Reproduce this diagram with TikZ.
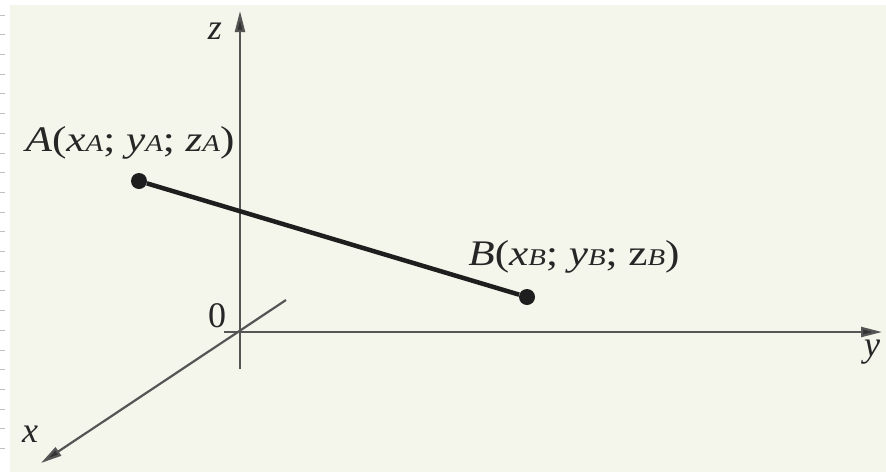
\documentclass[tikz,border=0pt]{standalone}
\usepackage{fontspec}
\setmainfont{Liberation Serif}
\usetikzlibrary{arrows.meta}

\definecolor{panelbg}{HTML}{F4F6EC}
\definecolor{axisgray}{HTML}{555555}
\definecolor{segdark}{HTML}{1E1E1E}
\newcommand{\sbs}[1]{{\fontsize{24}{24}\selectfont\itshape #1}}
\newcommand{\ptlabel}[3]{\scalebox{1.2}[1]{\textit{#1}(\textit{x}\sbs{#2}; \textit{y}\sbs{#2}; {#3z}\sbs{#2})}}

\begin{document}
\begin{tikzpicture}[x=1pt, y=-1pt]
    \tikzstyle{axis} = [draw=axisgray, line width=2.2pt, -{Triangle[length=21pt, width=10pt, fill=black!80]}]
    \tikzstyle{dot} = [circle, fill=segdark, inner sep=0pt, minimum size=16pt]
    \tikzstyle{lbl} = [inner sep=0pt, font=\fontsize{36}{36}\selectfont, text=black!85]
    \tikzstyle{axlbl} = [inner sep=0pt, font=\fontsize{36}{36}\selectfont\itshape, text=black!85]

    \useasboundingbox (0,0) rectangle (886,472);
    \fill[panelbg] (10,5) rectangle (886,472);
    % margin marks on the left
    \foreach \k in {0,...,22}
        \draw[gray!50, line width=0.8pt] (0,15+19.7*\k) -- (5,15+19.7*\k);

    \coordinate (O) at (240,332);
    \coordinate (zbot) at (240,369);
    \coordinate (ztop) at (240,11);
    \coordinate (ystart) at (224,332);
    \coordinate (yend) at (882,332);
    \coordinate (xstart) at (286,300);
    \coordinate (xend) at (41,463);

    \draw [axis] (zbot) -- (ztop);
    \draw [axis] (ystart) -- (yend);
    \draw [axis] (xstart) -- (xend);

    \node (zlab) [axlbl] at (215,31) {z};
    \node (ylab) [axlbl] at (872,352) {y};
    \node (xlab) [axlbl] at (30,434) {x};
    \node (olab) [lbl] at (217,316) {0};

    \node (A) [dot] at (139,181) {};
    \node (B) [dot] at (527,297) {};
    \draw [segdark, line width=4.5pt] (A) -- (B);

    \node (Alab) [lbl] at (130,143) {\ptlabel{A}{A}{\itshape}};
    \node (Blab) [lbl] at (574,257) {\ptlabel{B}{B}{\upshape}};
\end{tikzpicture}
\end{document}
